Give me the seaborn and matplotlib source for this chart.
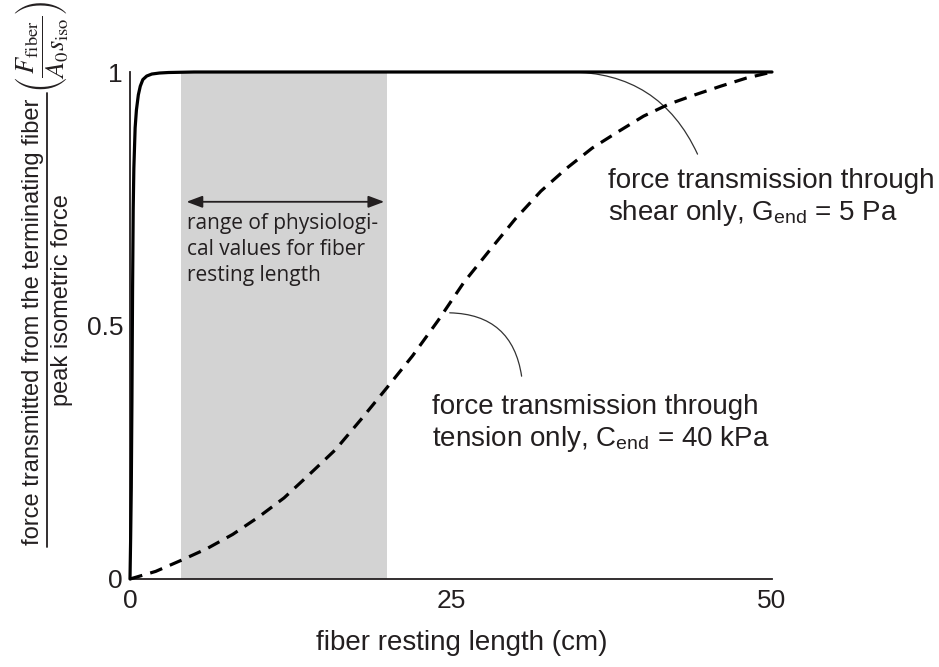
import numpy as np
import pandas as pd
import matplotlib
matplotlib.use("Agg")
import matplotlib.pyplot as plt
import seaborn as sns

# ---- data ----
shear_x = [0, 0.05, 0.1, 0.15, 0.2, 0.25, 0.3, 0.4, 0.5, 0.65, 0.8, 1.0, 1.3, 1.7, 2.3, 3, 5, 10, 20, 30, 40, 50]
shear_y = [0, 0.08, 0.18, 0.35, 0.57, 0.73, 0.81, 0.89, 0.925, 0.955, 0.972, 0.985, 0.992, 0.996, 0.998, 0.999, 1, 1, 1, 1, 1, 1]

tension_x = [0, 2, 4, 6, 8, 10, 12, 14, 16, 18, 20, 22, 24, 26, 28, 30, 32, 34, 36, 38, 40, 42, 44, 46, 48, 50]
tension_y = [0, 0.015, 0.037, 0.06, 0.088, 0.122, 0.16, 0.207, 0.255, 0.315, 0.377, 0.44, 0.51, 0.585, 0.648,
             0.71, 0.765, 0.81, 0.85, 0.882, 0.913, 0.937, 0.955, 0.972, 0.988, 1.0]

range_lo, range_hi = 4, 20          # physiological range (cm)
x_ticks = [0, 25, 50]
x_tick_labels = ["0", "25", "50"]
y_ticks = [0, 0.5, 1]
y_tick_labels = ["0", "0.5", "1"]

x_label = "fiber resting length (cm)"
y_num = "force transmitted from the terminating fiber"
y_den = "peak isometric force"
y_math = r"$\left(\dfrac{F_{\mathrm{fiber}}}{A_0 s_{\mathrm{iso}}}\right)$"
range_text = "range of physiologi-\ncal values for fiber\nresting length"
shear_text = "force transmission through\nshear only, G$_{\\mathregular{end}}$ = 5 Pa"
tension_text = "force transmission through\ntension only, C$_{\\mathregular{end}}$ = 40 kPa"

# ---- style ----
sns.set_theme(style="white")
plt.rcParams["font.family"] = ["Liberation Sans", "DejaVu Sans"]
plt.rcParams["mathtext.fontset"] = "stix"
TXT = "#231f20"

W, H = 939, 667
fig = plt.figure(figsize=(W / 100, H / 100), dpi=100)
ax = fig.add_axes([130 / W, (H - 579) / H, (772 - 130) / W, (579 - 72) / H])

ax.axvspan(range_lo, range_hi, color="#d3d3d3", lw=0, zorder=0)

shear_df = pd.DataFrame({"x": shear_x, "y": shear_y})
tension_df = pd.DataFrame({"x": tension_x, "y": tension_y})
sns.lineplot(data=shear_df, x="x", y="y", ax=ax, color="black", lw=2.3,
             clip_on=False, zorder=4)
sns.lineplot(data=tension_df, x="x", y="y", ax=ax, color="black", lw=2.3,
             linestyle=(0, (4, 2.6)), clip_on=False, zorder=4)

ax.set_xlim(0, 50)
ax.set_ylim(0, 1)
ax.set_xticks(x_ticks)
ax.set_xticklabels(x_tick_labels)
ax.set_yticks(y_ticks)
ax.set_yticklabels(y_tick_labels)
ax.tick_params(direction="in", length=4, width=1.1, labelsize=19, colors=TXT)
ax.tick_params(axis="x", pad=7)
ax.tick_params(axis="y", pad=5)
sns.despine(ax=ax)
for s in ["left", "bottom"]:
    ax.spines[s].set_color("#231f20")
    ax.spines[s].set_linewidth(1.3)
ax.set_ylabel("")
ax.set_xlabel(x_label, fontsize=20, color=TXT)
ax.xaxis.set_label_coords((462 - 130) / 642, -(630 - 579) / 507)

# range arrow and text
ax.annotate("", xy=(19.8, 0.744), xytext=(4.4, 0.744),
            arrowprops=dict(arrowstyle="<|-|>,head_length=0.8,head_width=0.3",
                            lw=1.3, color=TXT, shrinkA=0, shrinkB=0))
ax.text(4.45, 0.722, range_text, family=["Open Sans", "DejaVu Sans"], fontsize=15,
        color=TXT, va="top", ha="left", linespacing=1.32)

# annotations
ax.text(37.2, 0.752, shear_text, fontsize=20, color=TXT, va="center", ha="left",
        linespacing=1.2)
ax.text(23.5, 0.306, tension_text, fontsize=20, color=TXT, va="center", ha="left",
        linespacing=1.15)
ax.annotate("", xy=(34.2, 1.0), xytext=(44.2, 0.838),
            arrowprops=dict(arrowstyle="-", connectionstyle="arc3,rad=0.32",
                            lw=0.9, color="#333333", shrinkA=0, shrinkB=0))
ax.annotate("", xy=(24.9, 0.525), xytext=(30.5, 0.40),
            arrowprops=dict(arrowstyle="-", connectionstyle="arc3,rad=0.42",
                            lw=0.9, color="#333333", shrinkA=0, shrinkB=0))

# y label as fraction
fig.text(33 / W, 1 - 322 / H, y_num, rotation=90, fontsize=17, color=TXT,
         ha="center", va="center")
fig.add_artist(plt.Line2D([47 / W, 47 / W], [1 - 547 / H, 1 - 93 / H],
                          color=TXT, lw=1.3, transform=fig.transFigure))
fig.text(62 / W, 1 - 300 / H, y_den, rotation=90, fontsize=17, color=TXT,
         ha="center", va="center")
fig.text(42 / W, 1 - 47 / H, y_math, rotation=90, fontsize=19, color=TXT,
         ha="center", va="center")

fig.savefig("out.png", dpi=100)
